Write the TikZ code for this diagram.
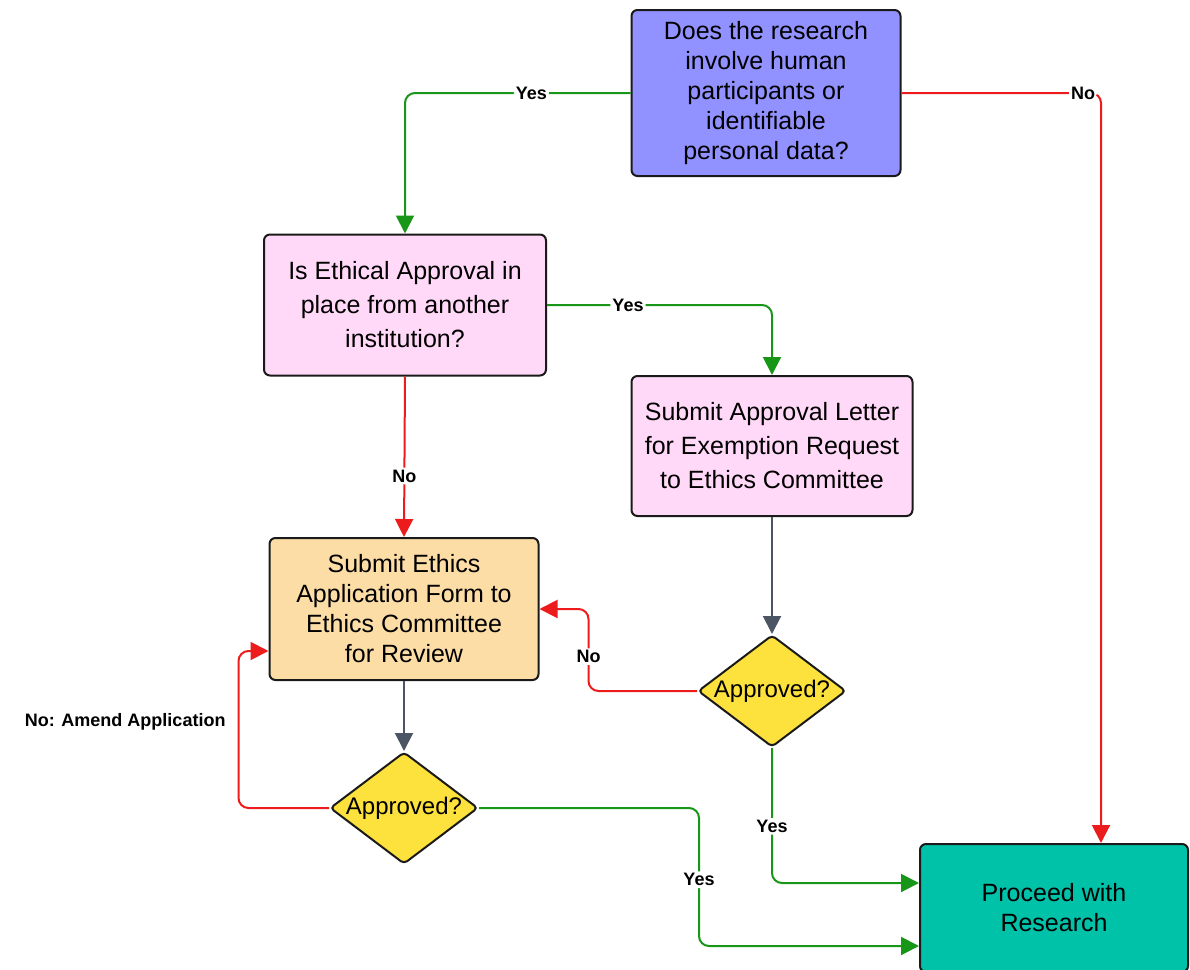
\documentclass[tikz,border=0pt]{standalone}
\usepackage{fontspec}
\setmainfont{Liberation Sans}
\usetikzlibrary{shapes.geometric,arrows.meta}
\definecolor{askblue}{HTML}{9191FF}
\definecolor{askpink}{HTML}{FFD9F7}
\definecolor{formorange}{HTML}{FDDDA6}
\definecolor{gateyellow}{HTML}{FDE13C}
\definecolor{goteal}{HTML}{00C2A8}
\definecolor{yesgreen}{HTML}{189618}
\definecolor{nored}{HTML}{EC1C1C}
\definecolor{flowgray}{HTML}{4B5563}
\definecolor{edge}{HTML}{1A1A1A}
\tikzset{
stepbox/.style={
	  draw=edge, line width=1pt, rounded corners=3pt,
	    align=center, inner sep=0pt, font=\fontsize{12.5}{15}\selectfont},
gate/.style={
	  draw=edge, line width=1pt, diamond, rounded corners=2pt,
	    fill=gateyellow, minimum width=74pt, minimum height=56pt, inner sep=0pt},
link/.style={line width=1pt, rounded corners=5pt, -{Triangle[length=9pt,width=9pt]}},
lbl/.style={fill=white, text=black, inner sep=1pt, font=\fontsize{9}{10}\selectfont\bfseries}
}
\newcommand{\gatetext}{\fontsize{12}{15}\selectfont Approved?}

\begin{document}
\begin{tikzpicture}[x=0.5pt, y=-0.5pt]
	\useasboundingbox (0,0) rectangle (1190,970);
	\node[stepbox, fill=askblue, minimum width=134.5pt, minimum height=83pt] (q1) at (766,93)
		{Does the research\\involve human\\participants or\\identifiable\\personal data?};
	\node[stepbox, fill=askpink, minimum width=141pt, minimum height=70.5pt,
		font=\fontsize{12.5}{17}\selectfont] (q2) at (405,305)
		{Is Ethical Approval in\\place from another\\institution?};
	\node[stepbox, fill=askpink, minimum width=140.5pt, minimum height=70pt,
		font=\fontsize{12.5}{17}\selectfont] (letter) at (772,446)
		{Submit Approval Letter\\for Exemption Request\\to Ethics Committee};
	\node[stepbox, fill=formorange, minimum width=134.5pt, minimum height=71pt] (form) at (404,609)
		{Submit Ethics\\Application Form to\\Ethics Committee\\for Review};
	\node[gate, label=center:\gatetext] (d1) at (404,808) {};
	\node[gate, label=center:\gatetext] (d2) at (772,691) {};
	\node[stepbox, fill=goteal, minimum width=134pt, minimum height=64pt] (proceed) at (1054,908)
		{Proceed with\\Research};

	% yes branches
	\draw[link, yesgreen] (q1.west) -| node[lbl, pos=0.22] (y1) {Yes} (q2.north);
	\draw[link, yesgreen] (q2.east) -| node[lbl, pos=0.18] (y2) {Yes} (letter.north);
	\draw[link, yesgreen] (d2.south) |- node[lbl, pos=0.29] (y3) {Yes} ([yshift=12.5pt]proceed.west);
	\draw[link, yesgreen] (d1.east) -| node[lbl, pos=0.76] (y4) {Yes}
		([xshift=-110pt,yshift=-19pt]proceed.west) -- ([yshift=-19pt]proceed.west);
	% no branches
	\draw[link, nored] (q1.east) -| node[lbl, pos=0.455] (n1) {No} ([xshift=23.5pt]proceed.north);
	\draw[link, nored] (q2.south) -- node[lbl, pos=0.62] (n2) {No} (form.north);
	\draw[link, nored] (d2.west) -| node[lbl, pos=0.71] (n3) {No}
		([xshift=24.5pt]form.east) -- (form.east);
	\draw[link, nored] (d1.west) -| node[lbl, fill=none, pos=0.775, anchor=east, xshift=-5pt] (n4) {No: Amend Application}
		([xshift=-15pt,yshift=-21pt]form.west) -- ([yshift=-21pt]form.west);
	% plain steps
	\draw[link, flowgray] (form.south) -- (d1.north);
	\draw[link, flowgray] (letter.south) -- (d2.north);

\end{tikzpicture}
\end{document}
